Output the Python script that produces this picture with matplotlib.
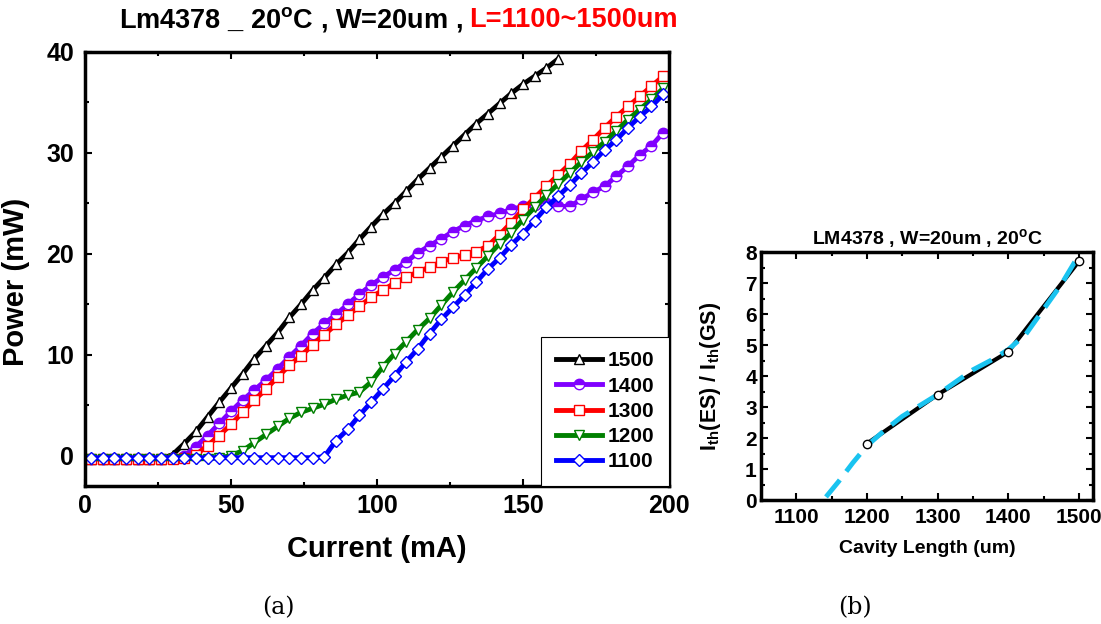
import matplotlib
matplotlib.use("Agg")
import matplotlib.pyplot as plt
from matplotlib.ticker import MultipleLocator

plt.rcParams['font.family'] = ['Liberation Sans', 'DejaVu Sans']
plt.rcParams['font.weight'] = 'bold'
plt.rcParams['mathtext.fontset'] = 'custom'
plt.rcParams['mathtext.rm'] = 'Liberation Sans:bold'
plt.rcParams['mathtext.it'] = 'Liberation Sans:bold'
plt.rcParams['mathtext.bf'] = 'Liberation Sans:bold'

# --- (a) L-I curves, current in mA ---
current = [2, 6, 10, 14, 18, 22, 26, 30, 34, 38, 42, 46, 50, 54, 58, 62, 66, 70, 74, 78,
           82, 86, 90, 94, 98, 102, 106, 110, 114, 118, 122, 126, 130, 134, 138, 142, 146, 150,
           154, 158, 162, 166, 170, 174, 178, 182, 186, 190, 194, 198]

p1500 = [-0.3, -0.3, -0.3, -0.3, -0.3, -0.3, -0.3, 0.1, 1.2, 2.4, 3.85, 5.3, 6.7, 8.1, 9.6,
         10.9, 12.2, 13.7, 15.0, 16.4, 17.65, 18.95, 20.1, 21.45, 22.7, 23.9, 25.0, 26.2, 27.4,
         28.5, 29.6, 30.7, 31.8, 32.9, 33.9, 34.9, 35.9, 36.8, 37.6, 38.4, 39.3]
p1400 = [-0.3, -0.3, -0.3, -0.3, -0.3, -0.3, -0.3, -0.2, 0.0, 0.9, 2.0, 3.2, 4.4, 5.5, 6.5,
         7.5, 8.6, 9.8, 10.9, 12.1, 13.1, 14.0, 15.0, 16.0, 16.9, 17.7, 18.4, 19.2, 20.1, 20.8,
         21.5, 22.2, 22.8, 23.3, 23.7, 24.0, 24.4, 24.7, 24.8, 25.0, 24.7, 24.7, 25.4, 26.1,
         26.7, 27.7, 28.7, 29.8, 30.7, 32.0]
p1300 = [-0.3, -0.3, -0.3, -0.3, -0.3, -0.3, -0.3, -0.3, -0.25, 0.1, 1.0, 2.0, 3.1, 4.3, 5.5,
         6.6, 7.8, 8.95, 9.9, 11.0, 12.0, 13.0, 13.9, 14.8, 15.7, 16.4, 17.1, 17.7, 18.2, 18.7,
         19.2, 19.6, 19.9, 20.2, 20.8, 21.9, 23.1, 24.4, 25.55, 26.7, 27.8, 28.9, 30.2, 31.3,
         32.5, 33.6, 34.6, 35.6, 36.6, 37.6]
p1200 = [-0.3, -0.3, -0.3, -0.3, -0.3, -0.3, -0.3, -0.3, -0.3, -0.3, -0.3, -0.2, 0.0, 0.5, 1.3,
         2.1, 2.9, 3.7, 4.3, 4.7, 5.1, 5.6, 6.0, 6.3, 7.3, 8.8, 10.1, 11.3, 12.5, 13.6, 14.9,
         16.2, 17.4, 18.6, 19.8, 21.0, 22.1, 23.4, 24.6, 25.8, 26.9, 28.0, 29.1, 30.1, 31.1,
         32.2, 33.3, 34.3, 35.3, 36.4]
p1100 = [-0.2, -0.2, -0.2, -0.2, -0.2, -0.2, -0.2, -0.2, -0.2, -0.2, -0.2, -0.2, -0.2, -0.2,
         -0.2, -0.2, -0.2, -0.2, -0.2, -0.2, -0.1, 1.5, 2.6, 4.0, 5.3, 6.6, 7.9, 9.3, 10.6, 12.1,
         13.5, 14.7, 15.9, 17.2, 18.5, 19.6, 20.9, 22.0, 23.3, 24.6, 25.7, 26.8, 28.0, 29.1,
         30.3, 31.3, 32.5, 33.6, 34.6, 35.8]

# --- (b) threshold ratio vs cavity length ---
cavity = [1200, 1300, 1400, 1500]
ratio = [1.82, 3.4, 4.78, 7.7]
fit_len = [1142, 1160, 1180, 1200, 1225, 1250, 1275, 1300, 1325, 1350, 1375, 1400, 1425,
           1450, 1475, 1500]
fit_ratio = [0.1, 0.6, 1.2, 1.75, 2.25, 2.7, 3.05, 3.4, 3.8, 4.2, 4.5, 4.85, 5.35, 6.15,
             6.95, 7.9]

fig = plt.figure(figsize=(11.01, 6.24), dpi=100)


def style_axes(ax, lw=2.5):
    for s in ax.spines.values():
        s.set_linewidth(lw)
    ax.tick_params(which='both', direction='in', top=True, right=True, width=1.5)
    ax.tick_params(which='major', length=5)
    ax.tick_params(which='minor', length=3)


# ---------- left panel ----------
ax = fig.add_axes([0.0772, 0.2212, 0.5304, 0.6955])
series = [
    ('1500', current[:len(p1500)], p1500, 'black', '^', {}),
    ('1400', current, p1400, '#8000ff', 'o', dict(fillstyle='top', markerfacecoloralt='white')),
    ('1300', current, p1300, '#ff0000', 's', {}),
    ('1200', current, p1200, '#008000', 'v', {}),
    ('1100', current, p1100, '#0000ff', 'D', {}),
]
for lab, xs, ys, col, mk, extra in series:
    face = col if 'fillstyle' in extra else 'white'
    ms = 6 if mk == 'D' else 7.5
    ax.plot(xs, ys, color=col, lw=3.5, marker=mk, ms=ms, mec=col,
            mfc=face, mew=1.0, label=lab, **extra)

ax.set_xlim(0, 200)
ax.set_ylim(-3, 40)
ax.xaxis.set_major_locator(MultipleLocator(50))
ax.xaxis.set_minor_locator(MultipleLocator(25))
ax.yaxis.set_major_locator(MultipleLocator(10))
ax.yaxis.set_minor_locator(MultipleLocator(5))
style_axes(ax)
ax.tick_params(axis='x', labelsize=18, pad=6)
ax.tick_params(axis='y', labelsize=18, pad=8)
ax.set_xlabel('Current (mA)', fontsize=21, fontweight='bold', labelpad=12)
ax.set_ylabel('Power (mW)', fontsize=21, fontweight='bold')
ax.yaxis.set_label_coords(-0.095, 0.47)

leg = ax.legend(loc='lower right', borderaxespad=0, fancybox=False, framealpha=1,
                edgecolor='black', prop={'size': 15, 'weight': 'bold'}, handlelength=2.2,
                handletextpad=0.3, labelspacing=0.3, borderpad=0.7, numpoints=1)
leg.get_frame().set_linewidth(0.8)

fig.text(0.4205, 0.968, r'Lm4378 _ 20$^{\mathrm{o}}$C , W=20um ,', ha='right', va='center',
         fontsize=19.5, fontweight='bold')
fig.text(0.4264, 0.968, 'L=1100~1500um', ha='left', va='center', fontsize=19.5,
         fontweight='bold', color='#ff0000')

# ---------- right panel ----------
bx = fig.add_axes([0.6912, 0.1987, 0.3015, 0.3974])
bx.plot(cavity, ratio, color='black', lw=3, zorder=2)
bx.plot(fit_len, fit_ratio, color='#19c3f0', lw=3.5, dashes=(4.5, 2.2), zorder=3)
bx.plot(cavity, ratio, ls='none', marker='o', ms=6, mfc='white', mec='black', mew=1, zorder=4)
bx.set_xlim(1050, 1520)
bx.set_ylim(0, 8)
bx.xaxis.set_major_locator(MultipleLocator(100))
bx.xaxis.set_minor_locator(MultipleLocator(50))
bx.yaxis.set_major_locator(MultipleLocator(1))
bx.yaxis.set_minor_locator(MultipleLocator(0.5))
style_axes(bx, lw=2.5)
bx.tick_params(axis='x', labelsize=15, pad=6)
bx.tick_params(axis='y', labelsize=15, pad=3)
bx.set_xlabel('Cavity Length (um)', fontsize=14, fontweight='bold', labelpad=9)
bx.set_ylabel(r'I$_{th}$(ES) / I$_{th}$(GS)', fontsize=15.5, fontweight='bold')
bx.yaxis.set_label_coords(-0.115, 0.5)
bx.set_title(r'LM4378 , W=20um , 20$^{\mathrm{o}}$C', fontsize=14, fontweight='bold', pad=6)

fig.text(0.2525, 0.026, '(a)', ha='center', va='center', fontsize=17,
         family=['DejaVu Serif'], fontweight='normal')
fig.text(0.7766, 0.026, '(b)', ha='center', va='center', fontsize=17,
         family=['DejaVu Serif'], fontweight='normal')

fig.savefig('out.png', dpi=100)
